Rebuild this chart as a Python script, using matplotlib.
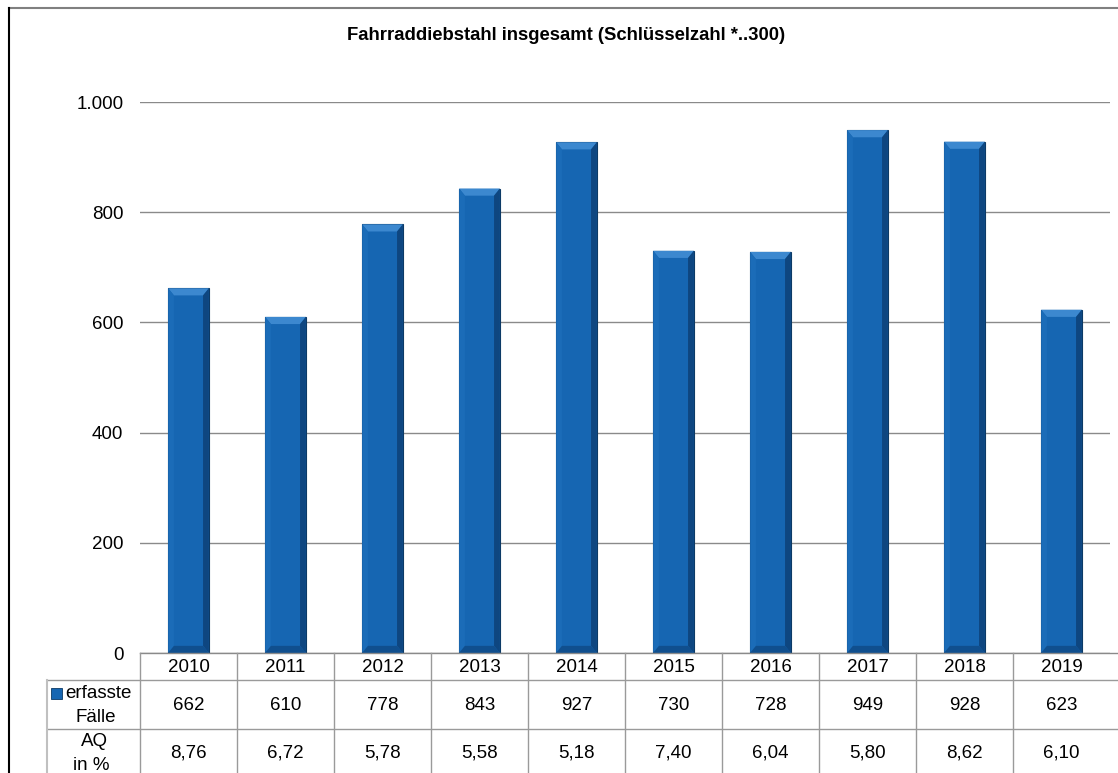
import numpy as np
import matplotlib
matplotlib.use("Agg")
import matplotlib.pyplot as plt
from matplotlib.patches import Polygon, Rectangle
from matplotlib.lines import Line2D

plt.rcParams['font.family'] = ['Liberation Sans', 'DejaVu Sans']

# Daten
jahre = ['2010', '2011', '2012', '2013', '2014', '2015', '2016', '2017', '2018', '2019']
faelle = [662, 610, 778, 843, 927, 730, 728, 949, 928, 623]
aq = ['8,76', '6,72', '5,78', '5,58', '5,18', '7,40', '6,04', '5,80', '8,62', '6,10']
yticks = [0, 200, 400, 600, 800, 1000]
ytick_labels = ['0', '200', '400', '600', '800', '1.000']

W, H = 1118, 773
fig = plt.figure(figsize=(W / 100, H / 100), dpi=100)


def fx(x):
    return x / W


def fy(y):
    return 1 - y / H


fs = 13.5

# Plotbereich
ax = fig.add_axes([fx(140), fy(653), (1110 - 140) / W, (653 - 102) / H])
ax.set_xlim(-0.5, len(jahre) - 0.5)
ax.set_ylim(0, 1000)
for s in ax.spines.values():
    s.set_visible(False)
ax.set_xticks([])
ax.set_yticks(yticks)
ax.set_yticklabels(ytick_labels, fontsize=fs)
ax.tick_params(axis='y', length=0, pad=12)
ax.set_axisbelow(True)
ax.yaxis.grid(True, color='#8a8a8a', lw=1)

x = np.arange(len(jahre))
bw = 0.42
main = '#1666b2'
ax.bar(x, faelle, width=bw, color=main, edgecolor='#0c3a66', lw=0.8, zorder=2)

# Bevel-Effekt
bx, by = 0.06, 13
for xi, v in zip(x, faelle):
    l, r = xi - bw / 2, xi + bw / 2
    ax.add_patch(Polygon([(l, v), (r, v), (r - bx, v - by), (l + bx, v - by)],
                         closed=True, color='#3c88cf', lw=0, zorder=3))
    ax.add_patch(Polygon([(r, v), (r, 0), (r - bx, by), (r - bx, v - by)],
                         closed=True, color='#0e4680', lw=0, zorder=3))
    ax.add_patch(Polygon([(l, v), (l, 0), (l + bx, by), (l + bx, v - by)],
                         closed=True, color='#1b6cb8', lw=0, zorder=3))
    ax.add_patch(Polygon([(l, 0), (r, 0), (r - bx, by), (l + bx, by)],
                         closed=True, color='#104f8e', lw=0, zorder=3))

# Tabelle unter dem Diagramm
lc = '#9a9a9a'
fig.add_artist(Line2D([fx(140), 1], [fy(653), fy(653)], color='#8a8a8a', lw=1))
for yy in (680, 729):
    fig.add_artist(Line2D([fx(47), 1], [fy(yy), fy(yy)], color=lc, lw=1))
fig.add_artist(Line2D([fx(47), fx(47)], [fy(680), 0], color='#c0c0c0', lw=1.5))
for k in range(len(jahre)):
    xl = 140 + k * 97
    fig.add_artist(Line2D([fx(xl), fx(xl)], [fy(653), 0], color=lc, lw=1))
    xc = fx(xl + 48.5)
    fig.text(xc, fy(667), jahre[k], ha='center', va='center', fontsize=fs)
    fig.text(xc, fy(705), str(faelle[k]), ha='center', va='center', fontsize=fs)
    fig.text(xc, fy(753), aq[k], ha='center', va='center', fontsize=fs)

fig.add_artist(Rectangle((fx(51), fy(699)), 11 / W, 11 / H, facecolor=main,
                         edgecolor='#0c3a66', lw=0.6))
fig.text(fx(65), fy(694), 'erfasste', ha='left', va='center', fontsize=fs)
fig.text(fx(96), fy(718), 'Fälle', ha='center', va='center', fontsize=fs)
fig.text(fx(94), fy(741), 'AQ', ha='center', va='center', fontsize=fs)
fig.text(fx(91), fy(765), 'in %', ha='center', va='center', fontsize=fs)

# Titel
fig.text(fx(566), fy(36), 'Fahrraddiebstahl insgesamt (Schlüsselzahl *..300)',
         ha='center', va='center', fontsize=13.3, fontweight='bold')

# Rahmen
fig.add_artist(Line2D([fx(9), 1], [fy(8), fy(8)], color='#808080', lw=1.5))
fig.add_artist(Line2D([fx(9), fx(9)], [fy(8), 0], color='black', lw=1.5))

fig.savefig('out.png', dpi=100)
